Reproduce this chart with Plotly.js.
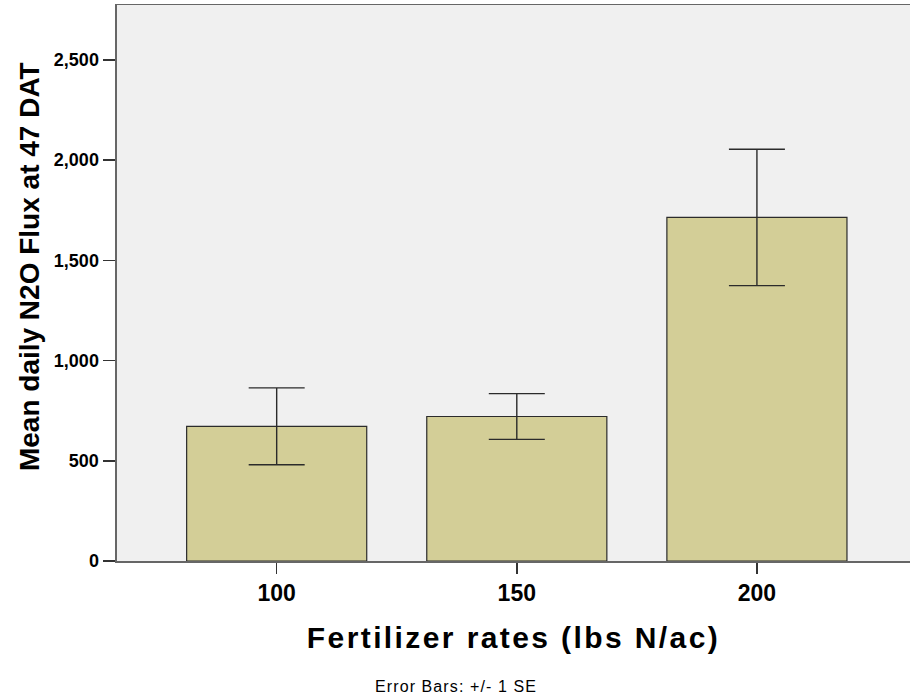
<!DOCTYPE html>
<html>
<head>
<meta charset="utf-8">
<script src="https://cdn.plot.ly/plotly-3.0.1.min.js"></script>
<style>
  html, body { margin: 0; padding: 0; background: #ffffff; }
  #chart { width: 910px; height: 700px; }
  .xtitle { letter-spacing: 2.4px; }
  .annotation-text { letter-spacing: 1.1px; }
</style>
</head>
<body>
<div id="chart"></div>
<script>
// Data
const categories = [0, 1, 2];
const tickLabels = ["100", "150", "200"];
const meanFlux = [672, 721, 1714];
const seFlux = [192, 114, 340];
const yTickVals = [0, 500, 1000, 1500, 2000, 2500];
const yTitle = "Mean daily N2O Flux at 47 DAT";
const xTitle = "Fertilizer rates (lbs N/ac)";
const caption = "Error Bars: +/- 1 SE";

const trace = {
  type: "bar",
  x: categories,
  y: meanFlux,
  width: 0.75,
  marker: { color: "#d3ce97", line: { color: "#2b2b2b", width: 1.2 } },
  error_y: { type: "data", array: seFlux, visible: true, color: "#2b2b2b", thickness: 1.4, width: 28 },
  hoverinfo: "none"
};

const layout = {
  width: 910,
  height: 700,
  margin: { l: 117, r: 0, t: 5, b: 139 },
  paper_bgcolor: "#ffffff",
  plot_bgcolor: "#f0f0f0",
  showlegend: false,
  bargap: 0.25,
  xaxis: {
    range: [-0.665, 2.6375],
    tickmode: "array",
    tickvals: categories,
    ticktext: tickLabels,
    ticks: "outside",
    ticklen: 11,
    tickwidth: 1.5,
    tickcolor: "#333333",
    showgrid: false,
    zeroline: false,
    showline: true,
    linecolor: "#666666",
    linewidth: 1.5,
    mirror: true,
    tickfont: { family: "Arial, Liberation Sans, sans-serif", size: 23, color: "#000000", weight: "bold" },
    title: { text: xTitle, font: { family: "Arial, Liberation Sans, sans-serif", size: 30, color: "#000000", weight: "bold" }, standoff: 22 },
    automargin: false,
    fixedrange: true
  },
  yaxis: {
    range: [0, 2774],
    tickmode: "array",
    tickvals: yTickVals,
    tickformat: ",d",
    ticks: "outside",
    ticklen: 12,
    tickwidth: 1.5,
    tickcolor: "#333333",
    showgrid: false,
    zeroline: false,
    showline: true,
    linecolor: "#666666",
    linewidth: 2.5,
    tickfont: { family: "Arial, Liberation Sans, sans-serif", size: 18, color: "#000000", weight: "bold" },
    automargin: false,
    fixedrange: true
  },
  annotations: [
    {
      text: yTitle,
      xref: "paper", yref: "paper",
      x: (29 - 117) / 793, y: (561 - 267) / 556,
      xanchor: "center", yanchor: "middle",
      textangle: -90,
      showarrow: false,
      font: { family: "Arial, Liberation Sans, sans-serif", size: 28, color: "#000000", weight: "bold" }
    },
    {
      text: caption,
      xref: "paper", yref: "paper",
      x: (456 - 117) / 793, y: (700 - 686 - 139) / 556,
      xanchor: "center", yanchor: "middle",
      showarrow: false,
      font: { family: "Arial, Liberation Sans, sans-serif", size: 16, color: "#000000" }
    }
  ]
};

Plotly.newPlot("chart", [trace], layout, { displayModeBar: false, staticPlot: true }).then(function () {
  // keep the rotated y title without extra letter spacing
  document.querySelectorAll(".annotation-text").forEach(function (t) {
    if (t.textContent === yTitle) t.style.letterSpacing = "0px";
  });
});
</script>
</body>
</html>
